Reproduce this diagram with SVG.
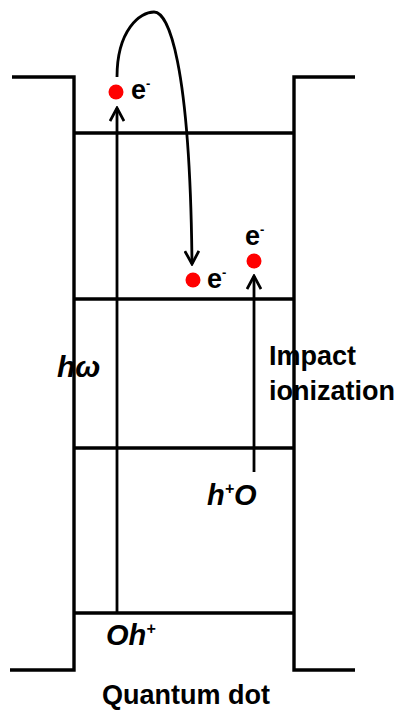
<svg xmlns="http://www.w3.org/2000/svg" width="398" height="712" viewBox="0 0 398 712">
<defs>
<style>
.ln{stroke:#000;stroke-width:3.4;fill:none}
.ar{stroke:#000;stroke-width:2.8;fill:none}
.dot{fill:#ff0000}
.t{font-family:"Liberation Sans",Arial,sans-serif;font-weight:bold;fill:#000}
.i{font-style:italic}
</style>
<marker id="ah" viewBox="0 0 16 16" refX="14" refY="8" markerWidth="16" markerHeight="16" markerUnits="userSpaceOnUse" orient="auto">
<path d="M1,1 L14,8 L1,15" stroke="#000" stroke-width="2.8" fill="none"/>
</marker>
</defs>
<rect width="398" height="712" fill="#fff"/>
<g id="well">
<polyline class="ln" points="12,77 74,77 74,670 10,670"/>
<polyline class="ln" points="355,77 294,77 294,670 355,670"/>
</g>
<g id="conduction-band">
<line class="ln" x1="74" y1="133" x2="294" y2="133"/>
<line class="ln" x1="74" y1="299" x2="294" y2="299"/>
</g>
<g id="valence-band">
<line class="ln" x1="74" y1="448" x2="294" y2="448"/>
<line class="ln" x1="74" y1="613" x2="294" y2="613"/>
</g>
<g id="connectors">
<line class="ar" x1="117" y1="613" x2="117" y2="108" marker-end="url(#ah)"/>
<path class="ar" d="M117,77 C117,30 140,12 154,12 C168,12 190,60 192,264" marker-end="url(#ah)"/>
<line class="ar" x1="254" y1="472" x2="254" y2="276" marker-end="url(#ah)"/>
</g>
<g id="electron1">
<circle class="dot" cx="116" cy="92" r="7.5"/>
<text class="t" x="131" y="99" font-size="27">e<tspan font-size="13" dy="-11">-</tspan></text>
</g>
<g id="electron2">
<circle class="dot" cx="193" cy="280" r="7.5"/>
<text class="t" x="207" y="288" font-size="27">e<tspan font-size="13" dy="-11">-</tspan></text>
</g>
<g id="electron3">
<circle class="dot" cx="254" cy="261" r="7.5"/>
<text class="t" x="245" y="245" font-size="27">e<tspan font-size="13" dy="-11">-</tspan></text>
</g>
<g id="labels">
<text class="t i" x="57" y="377" font-size="30">hω</text>
<text class="t" x="269" y="365" font-size="27">Impact</text>
<text class="t" x="269" y="400" font-size="27">ionization</text>
<text class="t i" x="207" y="505" font-size="29">h<tspan font-size="16" dy="-11">+</tspan><tspan dy="11">O</tspan></text>
<text class="t i" x="106" y="645" font-size="29">Oh<tspan font-size="16" dy="-11">+</tspan></text>
<text class="t" x="186" y="704" font-size="27" text-anchor="middle">Quantum dot</text>
</g>
</svg>
